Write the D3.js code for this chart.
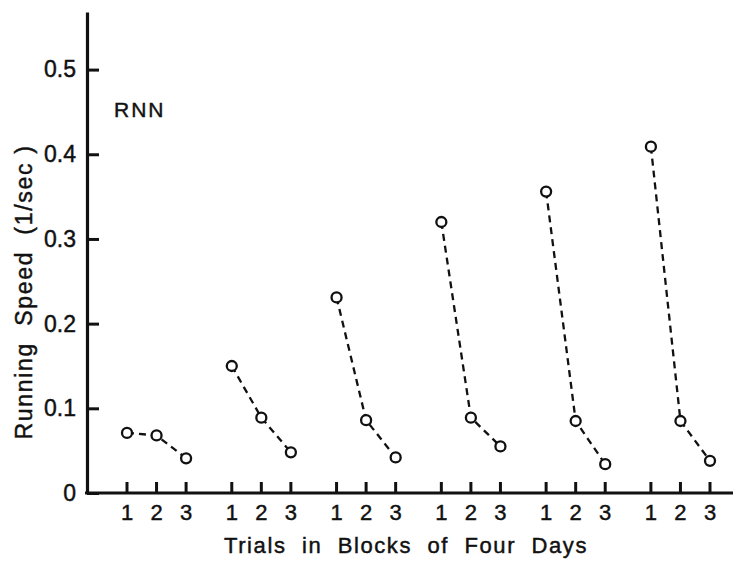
<!DOCTYPE html>
<html>
<head>
<meta charset="utf-8">
<script src="https://cdn.jsdelivr.net/npm/d3@7/dist/d3.min.js"></script>
<style>
  html, body { margin: 0; padding: 0; background: #fff; }
  svg { display: block; }
  text { font-family: "Liberation Sans", Arial, sans-serif; fill: #111; white-space: pre; }
</style>
</head>
<body>
<svg id="chart" width="733" height="563"></svg>
<script>
// Running speed (1/sec) for trials 1–3 within each block of four days, group RNN
const blocks = ["1", "2", "3", "4", "5", "6"];
const trials = [1, 2, 3];
const speedTrial1 = [0.071, 0.150, 0.231, 0.320, 0.356, 0.409];
const speedTrial2 = [0.068, 0.089, 0.086, 0.089, 0.085, 0.085];
const speedTrial3 = [0.041, 0.048, 0.042, 0.055, 0.034, 0.038];
const yTicks = [0, 0.1, 0.2, 0.3, 0.4, 0.5];
const groupLabel = "RNN";
const yTitle = "Running  Speed  (1/sec )";
const xTitle = "Trials  in  Blocks  of  Four  Days";

const svg = d3.select("#chart");
const ink = "#111";

const y = d3.scaleLinear().domain([0, 0.568]).range([493, 12]);
const xBlock = d3.scaleBand().domain(blocks).range([127, 710]).paddingInner(0.436).paddingOuter(0);
const xTrial = d3.scalePoint().domain(trials).range([0, xBlock.bandwidth()]);
const xPos = (b, t) => xBlock(b) + xTrial(t);

const axisX = 87;
const baseY = y(0);

// heavier text strokes, like a printed figure
const heavy = sel => sel.attr("stroke", ink).attr("stroke-width", 0.45);

// y axis with inward ticks
const yAxis = d3.axisLeft(y)
  .tickValues(yTicks)
  .tickSizeInner(-12)
  .tickSizeOuter(0)
  .tickPadding(11)
  .tickFormat(d => d === 0 ? "0" : d3.format(".1f")(d));

const gy = svg.append("g").attr("transform", `translate(${axisX},0)`).call(yAxis);
gy.select(".domain").attr("stroke", ink).attr("stroke-width", 3.2);
gy.selectAll(".tick line").attr("stroke", ink).attr("stroke-width", 3);
gy.selectAll(".tick text")
  .attr("font-size", 23)
  .attr("font-family", "Liberation Sans, Arial, sans-serif")
  .attr("fill", ink)
  .call(heavy);

// x axis baseline
const xLine = d3.scaleLinear().domain([0, 1]).range([axisX - 2, 733]);
svg.append("line")
  .attr("x1", xLine(0)).attr("x2", xLine(1))
  .attr("y1", baseY).attr("y2", baseY)
  .attr("stroke", ink).attr("stroke-width", 3.2);

// x ticks (upward) and trial labels
const tickData = blocks.flatMap(b => trials.map(t => ({ b, t })));
svg.append("g").selectAll("line").data(tickData).join("line")
  .attr("x1", d => xPos(d.b, d.t)).attr("x2", d => xPos(d.b, d.t))
  .attr("y1", baseY).attr("y2", baseY - 11)
  .attr("stroke", ink).attr("stroke-width", 3);

svg.append("g").selectAll("text").data(tickData).join("text")
  .attr("x", d => xPos(d.b, d.t))
  .attr("y", baseY + 27)
  .attr("text-anchor", "middle")
  .attr("font-size", 22)
  .call(heavy)
  .text(d => d.t);

// series lines and markers per block
const series = blocks.map((b, i) => ({
  block: b,
  values: [speedTrial1[i], speedTrial2[i], speedTrial3[i]].map((v, j) => ({ block: b, t: trials[j], v }))
}));

const line = d3.line().x(d => xPos(d.block, d.t)).y(d => y(d.v));

const gs = svg.append("g").selectAll("g").data(series).join("g");
gs.append("path")
  .attr("d", s => line(s.values))
  .attr("fill", "none")
  .attr("stroke", ink)
  .attr("stroke-width", 2.3)
  .attr("stroke-dasharray", "7,5");
gs.selectAll("circle").data(s => s.values).join("circle")
  .attr("cx", d => xPos(d.block, d.t))
  .attr("cy", d => y(d.v))
  .attr("r", 5)
  .attr("fill", "#fff")
  .attr("stroke", ink)
  .attr("stroke-width", 2.3);

// labels
svg.append("text")
  .attr("x", 114).attr("y", 117)
  .attr("font-size", 21)
  .attr("letter-spacing", 2)
  .call(heavy)
  .text(groupLabel);

svg.append("text")
  .attr("transform", `translate(32,292) rotate(-90)`)
  .attr("text-anchor", "middle")
  .attr("font-size", 23)
  .attr("letter-spacing", 1.7)
  .call(heavy)
  .text(yTitle);

svg.append("text")
  .attr("x", 406).attr("y", 553)
  .attr("text-anchor", "middle")
  .attr("font-size", 22)
  .attr("letter-spacing", 1.6)
  .call(heavy)
  .text(xTitle);
</script>
</body>
</html>
